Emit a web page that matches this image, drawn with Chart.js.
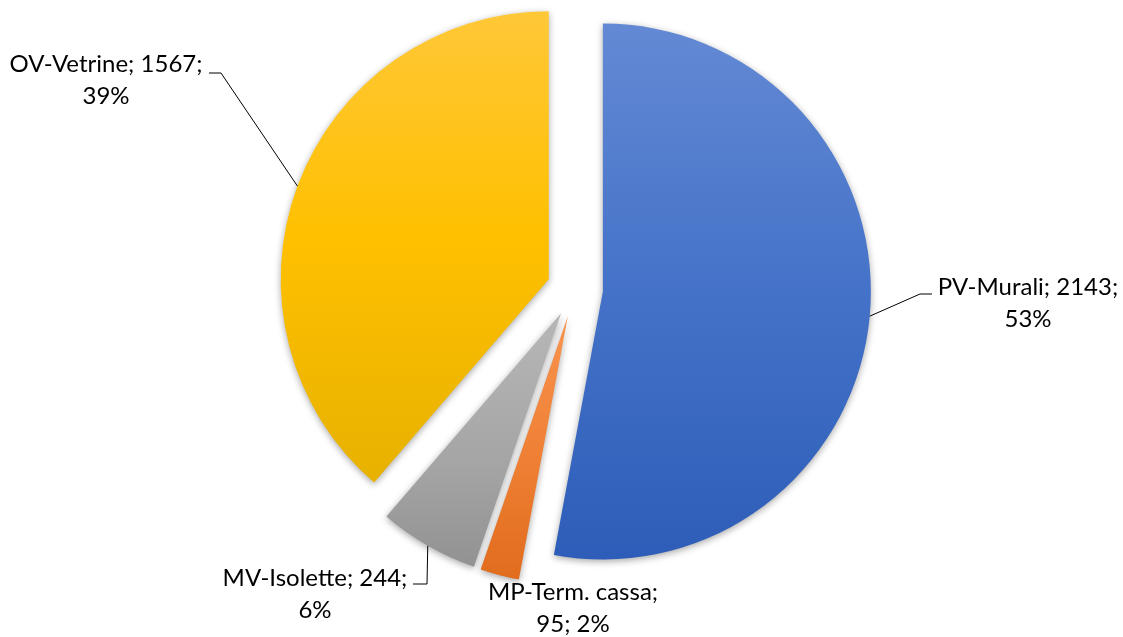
<!DOCTYPE html>
<html>
<head>
<meta charset="utf-8">
<script src="https://cdn.jsdelivr.net/npm/chart.js@4.4.1/dist/chart.umd.min.js"></script>
<style>
  html, body { margin: 0; padding: 0; background: #fff; }
  #wrap { width: 1123px; height: 637px; position: relative; }
</style>
</head>
<body>
<div id="wrap"><canvas id="torta"></canvas></div>
<script>
// dati
const categorie = ["PV-Murali", "MP-Term. cassa", "MV-Isolette", "OV-Vetrine"];
const valori = [2143, 95, 244, 1567];
// quante parti (nome, valore, %) stanno sulla prima riga dell'etichetta
const primaRiga = [2, 1, 2, 2];

// colori: [chiaro in alto, base, scuro in basso]
const colori = [
    ["#6389D4", "#4472C8", "#2D5DB8"],
    ["#F7904A", "#ED7D31", "#DE6818"],
    ["#B4B4B4", "#A5A5A5", "#8D8D8D"],
    ["#FFC83A", "#FFC000", "#E8B200"],
];

const RAGGIO = 268;
const ESPLOSO = 112; // chart.js trasla di offset/4

// posizione etichette (baseline prima riga) e gomito della linea guida
const posEtichette = [
    { x: 1028, y: 295, gomito: [[932, 294], [920, 294]] },
    { x: 573, y: 600, gomito: null },
    { x: 315, y: 586, gomito: [[413, 584], [427, 584]] },
    { x: 106, y: 72, gomito: [[209, 73], [221, 73]] },
];

const totale = valori.reduce((a, b) => a + b, 0);

function righeEtichetta(i) {
    const pct = Math.round((valori[i] / totale) * 100) + "%";
    const parti = [categorie[i], String(valori[i]), pct];
    const r1 = parti.slice(0, primaRiga[i]).join("; ") + ";";
    const r2 = parti.slice(primaRiga[i]).join("; ");
    return [r1, r2];
}

function estensioneY(cy, r, a0, a1) {
    const ys = [cy, cy + r * Math.sin(a0), cy + r * Math.sin(a1)];
    for (let k = -2; k <= 4; k++) {
        const a = Math.PI / 2 + k * Math.PI;
        if (a > a0 && a < a1) ys.push(cy + r * Math.sin(a));
    }
    return [Math.min(...ys), Math.max(...ys)];
}

function sfumatura(c) {
    const i = c.dataIndex;
    if (i === undefined) return colori[0][1];
    const chart = c.chart;
    const area = chart.chartArea;
    if (!area) return colori[i][1];
    const cx = (area.left + area.right) / 2;
    const cy = (area.top + area.bottom) / 2;
    const prima = valori.slice(0, i).reduce((a, b) => a + b, 0);
    const a0 = -Math.PI / 2 + (prima / totale) * Math.PI * 2;
    const a1 = a0 + (valori[i] / totale) * Math.PI * 2;
    const mid = (a0 + a1) / 2;
    const oy = cy + Math.sin(mid) * (ESPLOSO / 4);
    const [y0, y1] = estensioneY(oy, RAGGIO, a0, a1);
    const g = chart.ctx.createLinearGradient(0, y0, 0, y1);
    g.addColorStop(0, colori[i][0]);
    g.addColorStop(0.5, colori[i][1]);
    g.addColorStop(1, colori[i][2]);
    return g;
}

// chart.js allarga il raggio e stringe l'angolo delle fette esplose:
// riporto raggio e ampiezza ai valori veri
const raggioPlugin = {
    id: "raggio",
    afterDatasetUpdate(chart, args) {
        args.meta.data.forEach((arc) => {
            const off = (arc.options.offset || 0) / 4;
            const fix = 1 - Math.sin(Math.min(Math.PI, arc.circumference));
            const rOff = off * fix;
            arc.outerRadius = RAGGIO - rOff;
            const d = rOff / Math.PI / RAGGIO / 2;
            arc.startAngle -= d;
            arc.endAngle += d;
        });
    },
};

const ombraPlugin = {
    id: "ombra",
    beforeDatasetsDraw(chart) {
        const ctx = chart.ctx;
        ctx.save();
        ctx.shadowColor = "rgba(0,0,0,0.35)";
        ctx.shadowBlur = 7;
        ctx.shadowOffsetX = 0;
        ctx.shadowOffsetY = 2;
    },
    afterDatasetsDraw(chart) {
        chart.ctx.restore();
    },
};

const etichettePlugin = {
    id: "etichette",
    afterDraw(chart) {
        const ctx = chart.ctx;
        const meta = chart.getDatasetMeta(0);
        ctx.save();
        ctx.font = "24px Lato";
        ctx.fillStyle = "#000";
        ctx.strokeStyle = "#000";
        ctx.lineWidth = 1;
        ctx.textAlign = "center";
        ctx.textBaseline = "alphabetic";
        meta.data.forEach((arc, i) => {
            const pos = posEtichette[i];
            const righe = righeEtichetta(i);
            ctx.fillText(righe[0], pos.x, pos.y);
            ctx.fillText(righe[1], pos.x, pos.y + 32);
            if (pos.gomito) {
                const off = (arc.options.offset || 0) / 4;
                const mid = (arc.startAngle + arc.endAngle) / 2;
                const ex = arc.x + Math.cos(mid) * (off + RAGGIO);
                const ey = arc.y + Math.sin(mid) * (off + RAGGIO);
                ctx.beginPath();
                ctx.moveTo(pos.gomito[0][0], pos.gomito[0][1]);
                ctx.lineTo(pos.gomito[1][0], pos.gomito[1][1]);
                ctx.lineTo(ex, ey);
                ctx.stroke();
            }
        });
        ctx.restore();
    },
};

const canvas = document.getElementById("torta");
new Chart(canvas, {
    type: "pie",
    data: {
        labels: categorie,
        datasets: [
            {
                data: valori,
                backgroundColor: sfumatura,
                borderWidth: 0,
                offset: ESPLOSO,
                hoverOffset: 0,
            },
        ],
    },
    options: {
        responsive: true,
        maintainAspectRatio: false,
        animation: false,
        events: [],
        radius: RAGGIO,
        layout: {
            padding: { left: 27, right: 0, top: 0, bottom: 59 },
        },
        plugins: {
            legend: { display: false },
            tooltip: { enabled: false },
        },
    },
    plugins: [raggioPlugin, ombraPlugin, etichettePlugin],
});
</script>
</body>
</html>
